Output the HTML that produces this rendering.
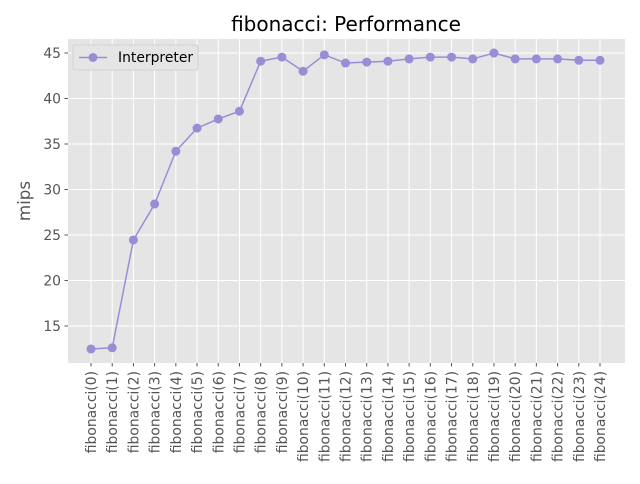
<!DOCTYPE html>
<html><head><meta charset="utf-8"><style>
body{margin:0;background:#fff;font-family:"DejaVu Sans","Liberation Sans",sans-serif;}
svg text{font-family:"DejaVu Sans","Liberation Sans",sans-serif;}
</style></head><body>
<svg id="chart" width="640" height="480" xmlns="http://www.w3.org/2000/svg">
<rect x="0" y="0" width="640" height="480" fill="#fff"/>
<text x="346" y="31" text-anchor="middle" font-size="20" fill="#000">fibonacci: Performance</text>
<rect x="68" y="39" width="557" height="324" fill="#e5e5e5"/>
<g id="grid"></g><g id="axes"></g><g id="series"></g>
<text transform="translate(30,201) rotate(-90)" text-anchor="middle" font-size="16.7" fill="#555">mips</text>
<g>
<rect x="73" y="45" width="125" height="25" rx="2" fill="#e5e5e5" stroke="#ccc" stroke-width="0.8"/>
<line x1="79" y1="57.5" x2="107" y2="57.5" stroke="#988ED5" stroke-width="1.5"/>
<circle cx="93" cy="57.5" r="4.5" fill="#988ED5"/>
<text x="118" y="62" font-size="13.9" fill="#000">Interpreter</text>
</g>
</svg>
<script>
const categories=["fibonacci(0)","fibonacci(1)","fibonacci(2)","fibonacci(3)","fibonacci(4)","fibonacci(5)","fibonacci(6)","fibonacci(7)","fibonacci(8)","fibonacci(9)","fibonacci(10)","fibonacci(11)","fibonacci(12)","fibonacci(13)","fibonacci(14)","fibonacci(15)","fibonacci(16)","fibonacci(17)","fibonacci(18)","fibonacci(19)","fibonacci(20)","fibonacci(21)","fibonacci(22)","fibonacci(23)","fibonacci(24)"];
const interpreterValues=[12.47,12.6,24.45,28.4,34.2,36.75,37.75,38.6,44.1,44.55,43.0,44.8,43.9,44.0,44.1,44.35,44.55,44.55,44.35,45.0,44.35,44.35,44.35,44.2,44.2];
const yTicks=[15,20,25,30,35,40,45];
const NS="http://www.w3.org/2000/svg";
const yMin=10.93,yMax=46.54,plotTop=39,plotBot=363;
function yPos(v){return plotBot-(v-yMin)/(yMax-yMin)*(plotBot-plotTop);}
function xPos(i){return 91+i*(600-91)/(categories.length-1);}
function mk(tag,attrs,parent){const e=document.createElementNS(NS,tag);for(const k in attrs)e.setAttribute(k,attrs[k]);parent.appendChild(e);return e;}
const grid=document.getElementById('grid'),axes=document.getElementById('axes'),series=document.getElementById('series');
yTicks.forEach(t=>{const y=yPos(t);
const g=mk('line',{x1:68,x2:625,y1:y,y2:y,stroke:'#fff','stroke-width':1},grid);


mk('line',{x1:64.5,x2:68,y1:y,y2:y,stroke:'#555'},axes);
const l=mk('text',{x:61,y:y+5,'text-anchor':'end','font-size':13.9,fill:'#555'},axes);l.textContent=t;

});
categories.forEach((c,i)=>{const x=xPos(i);
const g=mk('line',{x1:x,x2:x,y1:39,y2:363,stroke:'#fff','stroke-width':1},grid);


mk('line',{x1:x,x2:x,y1:363,y2:366.5,stroke:'#555'},axes);
const l=mk('text',{transform:`translate(${x+5},371) rotate(-90)`,'text-anchor':'end','font-size':13.9,fill:'#555'},axes);l.textContent=c;

});
const pts=interpreterValues.map((v,i)=>xPos(i)+','+yPos(v)).join(' ');
const pl=mk('polyline',{points:pts,fill:'none',stroke:'#988ED5','stroke-width':1.5},series);


interpreterValues.forEach((v,i)=>{const c=mk('circle',{cx:xPos(i),cy:yPos(v),r:4.5,fill:'#988ED5'},series);

});
</script>
</body></html>
